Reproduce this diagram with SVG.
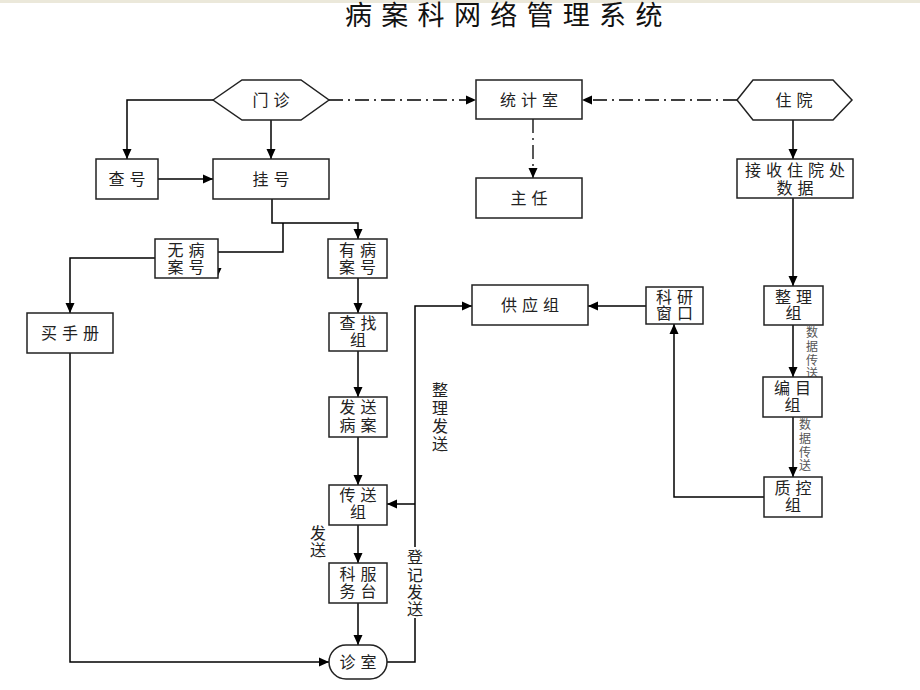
<svg xmlns="http://www.w3.org/2000/svg" width="920" height="690" viewBox="0 0 920 690">
<defs>
<marker id="arr" markerUnits="userSpaceOnUse" markerWidth="10" markerHeight="10" refX="10" refY="5" orient="auto">
<path d="M0,0.5 L10,5 L0,9.5 z" fill="#000"/>
</marker>
<style>
.box{fill:#fff;stroke:#222;stroke-width:1.5}
.t{font-family:"Noto Sans CJK SC","Noto Sans CJK JP",sans-serif;font-size:16px;letter-spacing:5px;fill:#222;text-anchor:middle}
.v{font-family:"Noto Sans CJK SC","Noto Sans CJK JP",sans-serif;font-size:16px;fill:#222;text-anchor:middle}
.s{font-family:"Noto Sans CJK SC","Noto Sans CJK JP",sans-serif;font-size:12px;fill:#555;text-anchor:middle}
.ln{fill:none;stroke:#000;stroke-width:1.5}
.dd{fill:none;stroke:#000;stroke-width:1.3;stroke-dasharray:14 5 2 5}
</style>
</defs>
<rect x="0" y="0" width="920" height="3" fill="#ebe8da"/>
<text x="345" y="25" font-family="'Noto Sans CJK SC','Noto Sans CJK JP',sans-serif" font-size="27" letter-spacing="9.3" fill="#111">病案科网络管理系统</text>

<g id="connectors">
<path class="ln" d="M213,100 H127 V159" marker-end="url(#arr)"/>
<path class="ln" d="M271,120 V159" marker-end="url(#arr)"/>
<path class="ln" d="M158,179 H213" marker-end="url(#arr)"/>
<path class="ln" d="M272,199 V223 H358 V239" marker-end="url(#arr)"/>
<path class="ln" d="M283,223 V252 H217 V278" marker-end="url(#arr)"/>
<path class="ln" d="M155,258 H70 V313" marker-end="url(#arr)"/>
<path class="ln" d="M358,278 V313" marker-end="url(#arr)"/>
<path class="ln" d="M358,351 V397" marker-end="url(#arr)"/>
<path class="ln" d="M358,437 V485" marker-end="url(#arr)"/>
<path class="ln" d="M358,525 V563" marker-end="url(#arr)"/>
<path class="ln" d="M358,603 V645" marker-end="url(#arr)"/>
<path class="ln" d="M70,353 V662 H329" marker-end="url(#arr)"/>
<path class="ln" d="M387,662 H415 V618"/>
<path class="ln" d="M415,547 V306 H472" marker-end="url(#arr)"/>
<path class="ln" d="M415,504 H387" marker-end="url(#arr)"/>
<path class="ln" d="M646,306 H588" marker-end="url(#arr)"/>
<path class="ln" d="M764,497 H674 V324" marker-end="url(#arr)"/>
<path class="ln" d="M793,120 V159" marker-end="url(#arr)"/>
<path class="ln" d="M793,198 V286" marker-end="url(#arr)"/>
<path class="ln" d="M793,325 V377" marker-end="url(#arr)"/>
<path class="ln" d="M793,417 V477" marker-end="url(#arr)"/>
<path class="dd" d="M329,100 H476" marker-end="url(#arr)"/>
<path class="dd" d="M737,100 H582" marker-end="url(#arr)"/>
<path class="dd" d="M533,119 V178" marker-end="url(#arr)"/>
<text class="v"><tspan x="440" y="396">整</tspan><tspan x="440" y="414">理</tspan><tspan x="440" y="432">发</tspan><tspan x="440" y="450">送</tspan></text>
<text class="v"><tspan x="415" y="563">登</tspan><tspan x="415" y="581">记</tspan><tspan x="415" y="598">发</tspan><tspan x="415" y="615">送</tspan></text>
<text class="v"><tspan x="318" y="539">发</tspan><tspan x="318" y="556">送</tspan></text>
<text class="s"><tspan x="812" y="337">数</tspan><tspan x="812" y="351">据</tspan><tspan x="812" y="365">传</tspan><tspan x="812" y="378">送</tspan></text>
<text class="s"><tspan x="805" y="429">数</tspan><tspan x="805" y="443">据</tspan><tspan x="805" y="457">传</tspan><tspan x="805" y="470">送</tspan></text>
</g>

<g id="menzhen"><polygon class="box" points="213,100 242,80 301,80 329,100 301,120 242,120"/><text class="t" x="273.5" y="106">门诊</text></g>
<g id="zhuyuan"><polygon class="box" points="737,100 753,80 833,80 852,100 833,120 753,120"/><text class="t" x="796.5" y="106">住院</text></g>
<g id="chahao"><rect class="box" x="96" y="159" width="62" height="40"/><text class="t" x="129.5" y="185">查号</text></g>
<g id="guahao"><rect class="box" x="213" y="159" width="116" height="40"/><text class="t" x="273.5" y="185">挂号</text></g>
<g id="tongjishi"><rect class="box" x="476" y="80" width="106" height="39"/><text class="t" x="531.5" y="106">统计室</text></g>
<g id="zhuren"><rect class="box" x="476" y="178" width="106" height="40"/><text class="t" x="531.5" y="204">主任</text></g>
<g id="jieshou"><rect class="box" x="737" y="159" width="116" height="39"/><text class="t" x="797.5" y="176">接收住院处</text><text class="t" x="797.5" y="194">数据</text></g>
<g id="wubinganhao"><rect class="box" x="155" y="239" width="63" height="39"/><text class="t" x="188.5" y="256">无病</text><text class="t" x="188.5" y="273">案号</text></g>
<g id="youbinganhao"><rect class="box" x="328" y="239" width="59" height="39"/><text class="t" x="360" y="256">有病</text><text class="t" x="360" y="273">案号</text></g>
<g id="maishouce"><rect class="box" x="27" y="313" width="86" height="40"/><text class="t" x="72.5" y="339">买手册</text></g>
<g id="chazhaozu"><rect class="box" x="329" y="313" width="58" height="38"/><text class="t" x="360.5" y="329">查找</text><text class="t" x="360.5" y="346">组</text></g>
<g id="fasongbingan"><rect class="box" x="329" y="397" width="58" height="40"/><text class="t" x="360.5" y="413">发送</text><text class="t" x="360.5" y="431">病案</text></g>
<g id="chuansongzu"><rect class="box" x="329" y="485" width="58" height="40"/><text class="t" x="360.5" y="501">传送</text><text class="t" x="360.5" y="518">组</text></g>
<g id="kefuwutai"><rect class="box" x="329" y="563" width="58" height="40"/><text class="t" x="360.5" y="580">科服</text><text class="t" x="360.5" y="597">务台</text></g>
<g id="zhenshi"><rect class="box" x="329" y="645" width="58" height="34" rx="17" ry="17"/><text class="t" x="360.5" y="668">诊室</text></g>
<g id="gongyingzu"><rect class="box" x="472" y="285" width="116" height="40"/><text class="t" x="532.5" y="311">供应组</text></g>
<g id="keyanchuangkou"><rect class="box" x="646" y="287" width="57" height="37"/><text class="t" x="677" y="303">科研</text><text class="t" x="677" y="319">窗口</text></g>
<g id="zhenglizu"><rect class="box" x="764" y="286" width="59" height="39"/><text class="t" x="796" y="303">整理</text><text class="t" x="796" y="319">组</text></g>
<g id="bianmuzu"><rect class="box" x="763" y="377" width="59" height="40"/><text class="t" x="795" y="394">编目</text><text class="t" x="795" y="411">组</text></g>
<g id="zhikongzu"><rect class="box" x="764" y="477" width="58" height="40"/><text class="t" x="795.5" y="494">质控</text><text class="t" x="795.5" y="511">组</text></g>
</svg>
